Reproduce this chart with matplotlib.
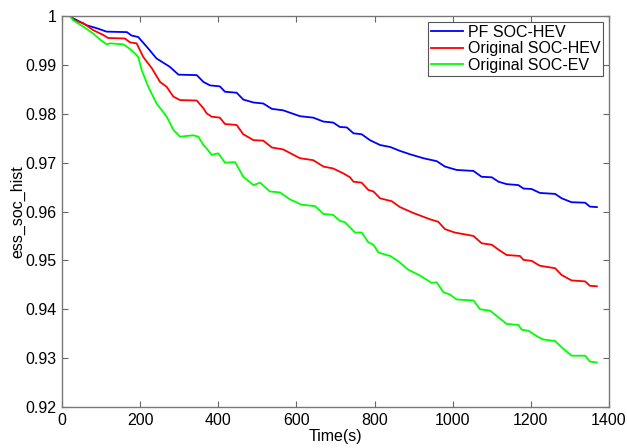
import numpy as np
import matplotlib
matplotlib.use('Agg')
import matplotlib.pyplot as plt
import matplotlib as mpl

settings = {"font.family": ['Liberation Sans', 'DejaVu Sans'],
            "font.size": 11.5,
            "xtick.labelsize": 11.5,
            "ytick.labelsize": 11.5,
            "legend.fontsize": 11.5}
mpl.rcParams.update(settings)

# PF SOC-HEV (blue)
t_pf = [0, 20, 29, 63, 89, 114, 166, 178, 195, 217, 242, 276, 298, 345, 362, 379,
        404, 417, 447, 464, 490, 515, 537, 566, 609, 643, 669, 694, 711, 729, 746,
        767, 788, 814, 840, 865, 891, 925, 959, 980, 1010, 1053, 1074, 1100, 1117,
        1138, 1168, 1181, 1202, 1223, 1262, 1279, 1304, 1339, 1351, 1369]
soc_pf = [1.0, 1.0, 0.9995, 0.9981, 0.9975, 0.9968, 0.9967, 0.9960, 0.9957, 0.9937,
          0.9913, 0.9896, 0.9880, 0.9879, 0.9865, 0.9858, 0.9856, 0.9845, 0.9843,
          0.9829, 0.9823, 0.9821, 0.9810, 0.9807, 0.9795, 0.9792, 0.9784, 0.9782,
          0.9773, 0.9772, 0.9760, 0.9758, 0.9746, 0.9736, 0.9732, 0.9724, 0.9717,
          0.9709, 0.9703, 0.9692, 0.9685, 0.9683, 0.9671, 0.9670, 0.9661, 0.9656,
          0.9654, 0.9647, 0.9646, 0.9638, 0.9636, 0.9627, 0.9619, 0.9618, 0.9610,
          0.9609]

# Original SOC-HEV (red)
t_hev = [0, 20, 33, 55, 80, 106, 118, 161, 174, 191, 208, 230, 251, 268, 285, 302,
         345, 362, 370, 383, 404, 417, 447, 464, 490, 515, 537, 566, 609, 643, 669,
         694, 720, 737, 746, 767, 784, 797, 814, 844, 865, 899, 942, 963, 980, 1005,
         1053, 1074, 1100, 1117, 1138, 1172, 1181, 1202, 1223, 1262, 1279, 1304,
         1339, 1351, 1369]
soc_hev = [1.0, 1.0, 0.9991, 0.9985, 0.9971, 0.9961, 0.9955, 0.9954, 0.9946, 0.9944,
           0.9916, 0.9893, 0.9865, 0.9855, 0.9835, 0.9828, 0.9827, 0.9811, 0.9801,
           0.9794, 0.9792, 0.9779, 0.9777, 0.9758, 0.9746, 0.9745, 0.9731, 0.9727,
           0.9709, 0.9705, 0.9692, 0.9688, 0.9678, 0.9670, 0.9661, 0.9659, 0.9644,
           0.9641, 0.9627, 0.9621, 0.9609, 0.9597, 0.9584, 0.9579, 0.9564, 0.9557,
           0.9550, 0.9535, 0.9532, 0.9522, 0.9511, 0.9509, 0.9501, 0.9499, 0.9489,
           0.9484, 0.9470, 0.9459, 0.9457, 0.9448, 0.9447]

# Original SOC-EV (green)
t_ev = [0, 20, 29, 55, 80, 97, 114, 123, 157, 170, 187, 195, 204, 221, 242, 268,
        285, 302, 336, 349, 362, 370, 383, 400, 417, 443, 464, 490, 507, 532, 558,
        583, 613, 648, 669, 694, 711, 724, 750, 767, 784, 797, 810, 840, 861, 886,
        916, 946, 959, 976, 993, 1010, 1053, 1070, 1096, 1113, 1138, 1168, 1177,
        1194, 1215, 1232, 1262, 1279, 1304, 1339, 1351, 1369]
soc_ev = [1.0, 1.0, 0.9991, 0.9978, 0.9964, 0.9952, 0.9942, 0.9944, 0.9942, 0.9935,
          0.9923, 0.9916, 0.9889, 0.9855, 0.9821, 0.9794, 0.9767, 0.9753, 0.9756,
          0.9753, 0.9736, 0.9729, 0.9716, 0.9719, 0.9700, 0.9701, 0.9671, 0.9654,
          0.9659, 0.9641, 0.9639, 0.9625, 0.9614, 0.9611, 0.9595, 0.9593, 0.9581,
          0.9578, 0.9557, 0.9557, 0.9537, 0.9532, 0.9516, 0.9509, 0.9498, 0.9481,
          0.9469, 0.9454, 0.9455, 0.9435, 0.9430, 0.9420, 0.9418, 0.9400, 0.9397,
          0.9386, 0.9370, 0.9368, 0.9358, 0.9356, 0.9345, 0.9338, 0.9335, 0.9322,
          0.9305, 0.9305, 0.9293, 0.9291]

fig = plt.figure(figsize=(6.27, 4.48), dpi=100)
ax = fig.add_axes([0.0989, 0.0915, 0.8724, 0.8728])

ax.plot(t_pf, soc_pf, color=(0, 0, 1), lw=1.3, label='PF SOC-HEV')
ax.plot(t_hev, soc_hev, color=(1, 0, 0), lw=1.3, label='Original SOC-HEV')
ax.plot(t_ev, soc_ev, color=(0, 1, 0), lw=1.3, label='Original SOC-EV')

ax.set_xlim(0, 1400)
ax.set_ylim(0.92, 1.0)
ax.set_xticks(np.arange(0, 1401, 200))
ax.set_yticks([0.92, 0.93, 0.94, 0.95, 0.96, 0.97, 0.98, 0.99, 1.0])
ax.set_yticklabels(['0.92', '0.93', '0.94', '0.95', '0.96', '0.97', '0.98', '0.99', '1'])
ax.tick_params(direction='in', top=True, right=True, length=4, width=0.8,
               color='#666666', pad=4)
for s in ax.spines.values():
    s.set_color('#777777')
    s.set_linewidth(1.0)

ax.set_xlabel('Time(s)', labelpad=1)
ax.set_ylabel('ess_soc_hist', labelpad=0)

leg = ax.legend(loc='upper right', fancybox=False, framealpha=1,
                edgecolor='#555555', borderaxespad=0.35, handlelength=2.0,
                handletextpad=0.3, borderpad=0.2, labelspacing=0.1)
leg.get_frame().set_linewidth(0.8)

plt.savefig('out.png', dpi=100)
